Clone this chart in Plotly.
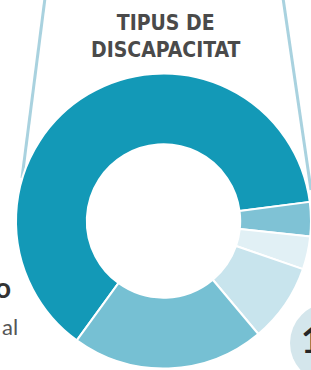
import plotly.graph_objects as go

# Data (clockwise from the large slice)
categories = ["Física", "Visual", "Auditiva", "Psíquica", "Intel·lectual"]
values = [62.9, 3.75, 3.6, 8.6, 21.1]
colors = ["#1399b7", "#7fc2d5", "#e1f0f5", "#c8e4ed", "#76c0d3"]

title_lines = ["TIPUS DE", "DISCAPACITAT"]

W, H = 311, 370

fig = go.Figure()

fig.add_trace(go.Pie(
    labels=categories,
    values=values,
    hole=0.52,
    sort=False,
    direction="clockwise",
    rotation=216,
    marker=dict(colors=colors, line=dict(color="white", width=2)),
    textinfo="none",
    hoverinfo="label+percent",
    showlegend=False,
    domain=dict(x=[16 / W, 1.0], y=[1.5 / H, 296.5 / H]),
))

def px(x):
    return x / W

def py(y):
    return 1 - y / H

shapes = [
    # decorative frame lines
    dict(type="line", xref="paper", yref="paper", layer="below",
         x0=px(45), y0=py(-2), x1=px(22), y1=py(178),
         line=dict(color="#a9d2df", width=3)),
    dict(type="line", xref="paper", yref="paper", layer="below",
         x0=px(283), y0=py(-2), x1=px(311), y1=py(190),
         line=dict(color="#a9d2df", width=3)),
    # circle bottom right
    dict(type="circle", xref="paper", yref="paper", layer="above",
         x0=px(290), x1=px(370), y0=py(383), y1=py(303),
         fillcolor="#d4e6ec", line=dict(width=0)),
]

annotations = [
    dict(text="<b>" + "<br>".join(title_lines) + "</b>", x=px(165), y=py(36),
         xref="paper", yref="paper",
         xanchor="center", yanchor="middle", showarrow=False,
         font=dict(family="DejaVu Sans Condensed, DejaVu Sans, sans-serif",
                   size=21, color="#4a4a4a"), align="center"),
    dict(text="<b>1</b>", x=px(299), y=py(339), xref="paper", yref="paper",
         xanchor="left", yanchor="middle", showarrow=False,
         font=dict(family="Lato, Roboto, sans-serif", size=36, color="#262626")),
    dict(text="<b>o</b>", x=px(13), y=py(287), xref="paper", yref="paper",
         xanchor="right", yanchor="middle", showarrow=False,
         font=dict(family="Lato, Roboto, sans-serif", size=28, color="#333333")),
    dict(text="al", x=px(0), y=py(326), xref="paper", yref="paper",
         xanchor="left", yanchor="middle", showarrow=False,
         font=dict(family="Lato, Roboto, sans-serif", size=22, color="#555555")),
]

fig.update_layout(
    width=W, height=H,
    margin=dict(l=0, r=0, t=0, b=0),
    paper_bgcolor="white",
    plot_bgcolor="white",
    shapes=shapes,
    annotations=annotations,
)

fig.write_html("out.html",
               config={"displayModeBar": False},
               post_script="document.body.style.margin='0';document.body.style.overflow='hidden';")
